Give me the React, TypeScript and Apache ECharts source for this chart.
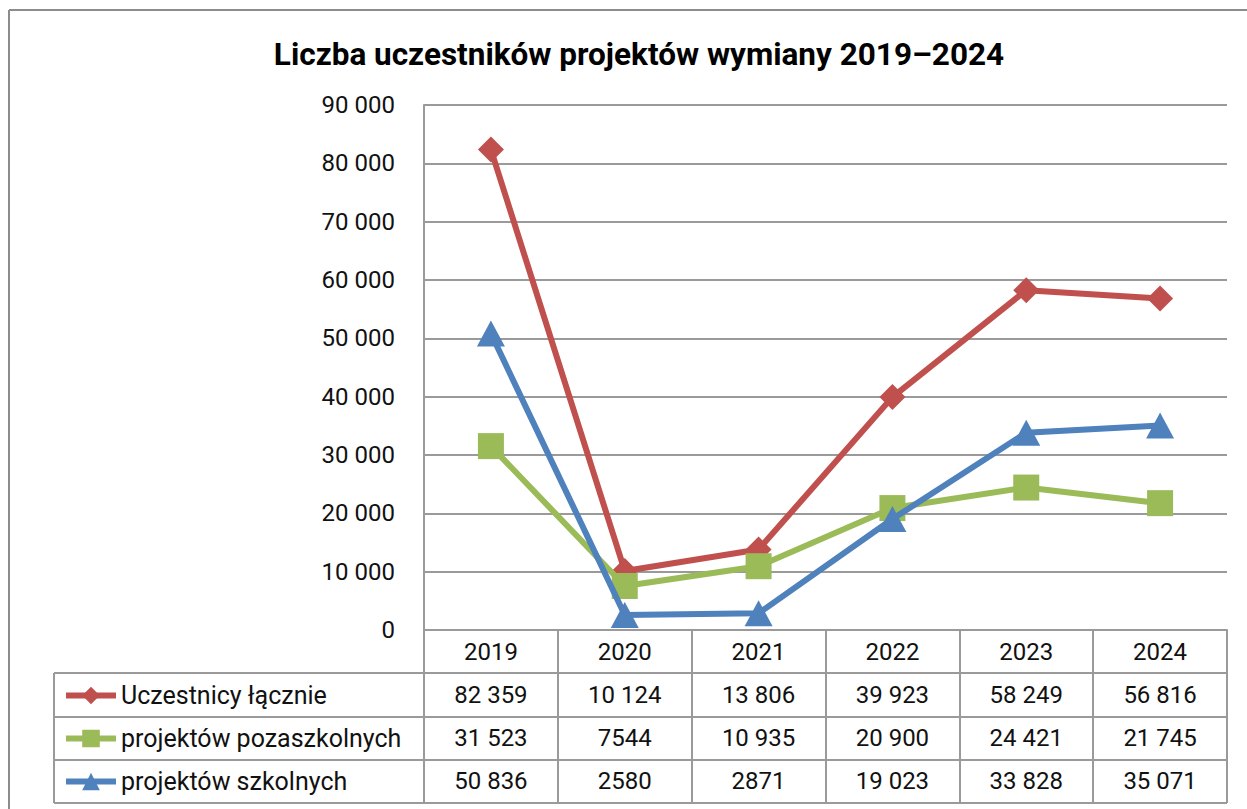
import React, { useEffect, useRef } from "react";
import * as echarts from "echarts";

const years = ["2019", "2020", "2021", "2022", "2023", "2024"];
const seriesNames = ["Uczestnicy łącznie", "projektów pozaszkolnych", "projektów szkolnych"];
const totalValues = [82359, 10124, 13806, 39923, 58249, 56816];
const outOfSchoolValues = [31523, 7544, 10935, 20900, 24421, 21745];
const schoolValues = [50836, 2580, 2871, 19023, 33828, 35071];
const colors = ["#C0504D", "#9BBB59", "#4F81BD"];
const symbols = ["diamond", "rect", "triangle"];
const yTicks = { min: 0, max: 90000, interval: 10000 };

const FONT = "Roboto";
const fmt = (v: number) => {
  const s = String(v);
  if (v < 10000) return s;
  return s.replace(/\B(?=(\d{3})+(?!\d))/g, " ");
};
const fmtAxis = (v: number) => (v === 0 ? "0" : String(v).replace(/\B(?=(\d{3})+(?!\d))/g, " "));

export default function App() {
  const ref = useRef<HTMLDivElement>(null);
  useEffect(() => {
    if (!ref.current) return;
    const chart = echarts.init(ref.current, undefined, { renderer: "svg" });
    const gridLeft = 424, gridTop = 105, gridW = 803, gridH = 525;
    const allData = [totalValues, outOfSchoolValues, schoolValues];
    const gray = "#9a9a9a";
    const rowOffsets = [44, 87, 130];

    const valueAxes = allData.map((arr, k) => ({
      type: "category",
      data: years,
      gridIndex: 0,
      position: "bottom",
      offset: rowOffsets[k],
      boundaryGap: true,
      axisLine: { show: false },
      axisTick: { show: false },
      splitLine: { show: false },
      axisLabel: {
        interval: 0,
        margin: 9,
        fontFamily: FONT,
        fontSize: 24,
        color: "#111",
        formatter: (_v: string, idx: number) => fmt(arr[idx]),
      },
    }));

    const hLines = [673, 717, 760, 803].map((y) => ({
      type: "line",
      shape: { x1: 54, y1: y, x2: gridLeft + gridW, y2: y },
      style: { stroke: gray, lineWidth: 2 },
    }));

    chart.setOption({
      animation: false,
      backgroundColor: "#fff",
      title: {
        text: "Liczba uczestników projektów wymiany 2019–2024",
        left: 634,
        textAlign: "center",
        top: 33,
        textStyle: { fontFamily: FONT, fontSize: 31.5, fontWeight: "bold", color: "#000" },
      },
      legend: {
        orient: "vertical",
        left: 63,
        top: 683,
        padding: 0,
        itemWidth: 50,
        itemHeight: 22,
        itemGap: 18,
        textStyle: { fontFamily: FONT, fontSize: 25, lineHeight: 22, color: "#111" },
        data: seriesNames.map((n, k) => ({
          name: n,
          itemStyle: { color: colors[k] },
          lineStyle: { color: colors[k], width: 6 },
        })),
      },
      grid: { left: gridLeft, top: gridTop, width: gridW, height: gridH, containLabel: false },
      xAxis: [
        {
          type: "category",
          data: years,
          boundaryGap: true,
          axisLine: { show: true, lineStyle: { color: gray, width: 2 } },
          axisTick: { show: true, length: 173, interval: 0, lineStyle: { color: gray, width: 2 } },
          axisLabel: { interval: 0, margin: 10, fontFamily: FONT, fontSize: 24, color: "#111" },
          splitLine: { show: false },
        },
        ...valueAxes,
      ],
      yAxis: {
        type: "value",
        min: yTicks.min,
        max: yTicks.max,
        interval: yTicks.interval,
        axisLine: { show: true, lineStyle: { color: gray, width: 2 } },
        axisTick: { show: false },
        axisLabel: { margin: 29, fontFamily: FONT, fontSize: 24, color: "#111", formatter: fmtAxis },
        splitLine: { show: true, lineStyle: { color: gray, width: 2 } },
      },
      series: allData.map((arr, k) => ({
        name: seriesNames[k],
        type: "line",
        data: arr,
        symbol: symbols[k],
        symbolSize: k === 2 ? [28, 26] : 26,
        lineStyle: { color: colors[k], width: 6 },
        itemStyle: { color: colors[k] },
        z: 2 + k,
      })),
      graphic: [
        {
          type: "line",
          shape: { x1: 9, y1: 10, x2: 1247, y2: 10 },
          style: { stroke: "#8c8c8c", lineWidth: 2 },
        },
        {
          type: "line",
          shape: { x1: 9, y1: 10, x2: 9, y2: 809 },
          style: { stroke: "#8c8c8c", lineWidth: 2 },
        },
        ...hLines,
        {
          type: "line",
          shape: { x1: 54, y1: 673, x2: 54, y2: 803 },
          style: { stroke: gray, lineWidth: 2 },
        },
      ],
    });
    return () => chart.dispose();
  }, []);
  return <div ref={ref} style={{ position: "fixed", left: 0, top: 0, width: 1247, height: 809 }} />;
}
